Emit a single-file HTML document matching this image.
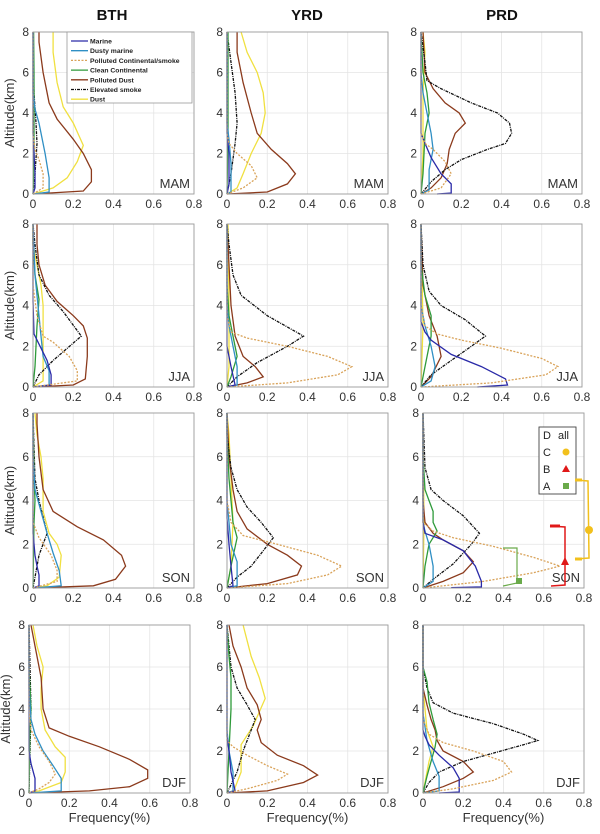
<!DOCTYPE html>
<html><head><meta charset="utf-8"><style>
body{margin:0;background:#fff;width:600px;height:834px;overflow:hidden}
svg{display:block}
text{font-family:"Liberation Sans",sans-serif}
</style></head><body>
<svg id="s" width="600" height="834" xmlns="http://www.w3.org/2000/svg"></svg>
<script>
const S=document.getElementById('s');
let h='';
const rows=[[32,194],[224,387],[413,588],[625,793]];
const cols=[[33,227,421],[33,227,421],[33,227,423],[29,227,423]];
const W=161;
const seasons=['MAM','JJA','SON','DJF'];
const styles=[
 {c:'#2a2aa8',d:''},
 {c:'#2f8fc4',d:''},
 {c:'#d9a35a',d:'2,1.5'},
 {c:'#2e9a3a',d:''},
 {c:'#8b3a1c',d:''},
 {c:'#111',d:'3,1,1,1'},
 {c:'#f0e040',d:''}];
// data[col][row] = 7 series, order: marine,dusty,polcont,clean,poldust,elev,dust
const D={
'0_0':[[[0,0],[0.01,0.3],[0.01,1],[0.005,2],[0,3],[0,8]],[[0,0],[0.08,0.1],[0.08,0.8],[0.06,2],[0.03,3.5],[0.01,4.2],[0,5],[0,8]],[[0,0],[0.05,0.3],[0.05,1],[0.03,1.7],[0.01,2.2],[0,3],[0,8]],[[0,0],[0.005,2],[0.005,6],[0.003,8]],[[0,0],[0.25,0.15],[0.29,0.6],[0.29,1.2],[0.25,2],[0.2,2.7],[0.12,3.7],[0.08,4.5],[0.05,6],[0.03,7.5],[0.03,8]],[[0,0],[0.01,1],[0.02,2.5],[0.015,3.5],[0.005,5],[0,8]],[[0,0],[0.1,0.3],[0.17,0.8],[0.22,1.6],[0.25,2.4],[0.2,3.5],[0.15,4.3],[0.12,5.5],[0.1,7],[0.1,8]]],
'0_1':[[[0,0],[0.09,0.1],[0.09,0.6],[0.07,1.3],[0.02,2.3],[0.005,2.6],[0,4.2],[0,8]],[[0,0],[0.08,0.1],[0.08,0.8],[0.05,1.5],[0.04,2.5],[0.03,3.5],[0.02,4.5],[0.01,5.5],[0,8]],[[0,0],[0.22,0.3],[0.22,0.8],[0.18,1.5],[0.1,2.2],[0.05,2.5],[0.02,3.5],[0,5],[0,8]],[[0,0],[0.01,1],[0.02,3],[0.03,4.3],[0.01,5.5],[0,7],[0,8]],[[0,0],[0.2,0.1],[0.26,0.4],[0.27,1.5],[0.27,2.4],[0.25,3],[0.2,3.5],[0.12,4.2],[0.06,5],[0.03,6],[0.02,7],[0.02,8]],[[0,0],[0.03,0.6],[0.1,1.3],[0.17,1.9],[0.24,2.5],[0.15,3.7],[0.08,4.5],[0.03,5.5],[0.01,7],[0,8]],[[0,0],[0.05,0.3],[0.05,1],[0.05,2],[0.05,4],[0.04,5],[0.02,6],[0,7],[0,8]]],
'0_2':[[[0,0],[0.03,0.1],[0.03,0.6],[0.02,1],[0.01,1.5],[0,2.5],[0,8]],[[0,0],[0.14,0.1],[0.13,0.8],[0.1,1.6],[0.07,2.5],[0.04,3.5],[0.01,4.5],[0,6],[0,8]],[[0,0],[0.12,0.3],[0.12,0.8],[0.09,1.5],[0.03,2.3],[0,3],[0,8]],[[0,0],[0.005,3],[0.01,4],[0.005,5],[0,8]],[[0,0],[0.3,0.1],[0.41,0.4],[0.46,1],[0.44,1.5],[0.35,2.2],[0.22,2.8],[0.1,3.5],[0.05,4.5],[0.03,6],[0.02,7.5],[0.02,8]],[[0,0],[0.01,0.5],[0.03,1.5],[0.07,2.5],[0.03,4],[0.01,5],[0,8]],[[0,0],[0.07,0.1],[0.13,0.5],[0.14,1.5],[0.12,2],[0.08,2.5],[0.05,3.5],[0.05,5],[0.04,6],[0.02,7],[0.01,8]]],
'0_3':[[[0,0],[0.03,0.1],[0.03,0.7],[0.01,1.4],[0,2],[0,8]],[[0,0],[0.16,0.1],[0.16,0.7],[0.12,1.3],[0.07,2],[0.03,2.8],[0.01,3.5],[0,5],[0,8]],[[0,0],[0.05,0.2],[0.1,0.5],[0.13,0.9],[0.1,1.5],[0.05,2.2],[0.01,3],[0,4],[0,8]],[[0,0],[0.005,3],[0.01,4],[0,6],[0,8]],[[0,0],[0.3,0.1],[0.5,0.3],[0.59,0.7],[0.59,1.1],[0.5,1.6],[0.35,2.2],[0.2,2.7],[0.1,3.1],[0.07,4],[0.06,5.5],[0.03,7],[0.01,8]],[[0,0],[0.005,2],[0.01,4],[0.005,6],[0,8]],[[0,0],[0.05,0.1],[0.16,0.5],[0.18,1],[0.18,1.7],[0.13,2.2],[0.08,3],[0.06,4],[0.06,5],[0.07,6],[0.04,7],[0.02,8]]],
'1_0':[[[0,0],[0.01,0.5],[0.01,2],[0,3],[0,8]],[[0,0],[0.02,0.1],[0.02,1.5],[0.01,2.7],[0,3.5],[0,8]],[[0,0],[0.08,0.3],[0.15,0.8],[0.12,1.4],[0.05,2],[0.01,2.5],[0,3],[0,8]],[[0,0],[0.005,3],[0.005,8]],[[0,0],[0.2,0.1],[0.3,0.5],[0.34,1],[0.3,1.5],[0.22,2.2],[0.15,3],[0.12,4],[0.08,5.5],[0.05,7],[0.05,8]],[[0,0],[0.02,1],[0.04,2.5],[0.05,3.5],[0.04,5],[0.02,6.5],[0,8]],[[0,0],[0.05,0.3],[0.08,1],[0.12,2],[0.17,3],[0.19,4],[0.18,5],[0.15,6],[0.1,7],[0.07,8]]],
'1_1':[[[0,0],[0.04,0.1],[0.02,1],[0,2],[0,8]],[[0,0],[0.05,0.1],[0.05,1],[0.03,2],[0.01,3],[0,4],[0,8]],[[0,0],[0.3,0.2],[0.55,0.6],[0.62,1],[0.5,1.5],[0.3,2],[0.1,2.4],[0.02,2.7],[0,3.5],[0,8]],[[0,0],[0.02,0.5],[0.05,1.5],[0.03,2.5],[0.01,3.5],[0,5],[0,8]],[[0,0],[0.1,0.2],[0.18,0.5],[0.14,1],[0.08,1.5],[0.04,2.5],[0.02,4],[0.01,6],[0,8]],[[0,0],[0.05,0.5],[0.15,1.2],[0.3,2],[0.38,2.5],[0.2,3.5],[0.07,4.5],[0.03,5.5],[0.01,7],[0,8]],[[0,0],[0.01,1],[0.01,4],[0.005,8]]],
'1_2':[[[0,0],[0.03,0.1],[0.02,1],[0.01,2],[0,3.2],[0,8]],[[0,0],[0.05,0.1],[0.05,1.2],[0.02,2],[0.01,3],[0,4],[0,8]],[[0,0],[0.3,0.2],[0.5,0.6],[0.57,1],[0.45,1.5],[0.25,2],[0.08,2.4],[0.02,3],[0,4],[0,8]],[[0,0],[0.02,1],[0.05,2.3],[0.03,3],[0.02,4],[0.01,5],[0,7],[0,8]],[[0,0],[0.2,0.2],[0.35,0.6],[0.37,1],[0.3,1.5],[0.2,2],[0.1,2.7],[0.05,3.5],[0.03,4.5],[0.01,6],[0,8]],[[0,0],[0.05,0.5],[0.12,1],[0.18,1.7],[0.23,2.3],[0.17,3],[0.1,3.7],[0.05,4.5],[0.02,5.5],[0,7],[0,8]],[[0,0],[0.02,1],[0.03,3],[0.02,5],[0.01,7],[0,8]]],
'1_3':[[[0,0],[0.04,0.1],[0.02,1],[0.01,2],[0,2.7],[0,8]],[[0,0],[0.03,0.1],[0.03,1],[0.01,2],[0,3],[0,8]],[[0,0],[0.1,0.2],[0.25,0.6],[0.3,0.9],[0.2,1.3],[0.1,1.8],[0.03,2.2],[0,2.5],[0,8]],[[0,0],[0.01,2],[0.02,4],[0.02,5.5],[0.01,6.5],[0,8]],[[0,0],[0.2,0.1],[0.38,0.5],[0.45,0.85],[0.38,1.3],[0.25,1.8],[0.17,2.4],[0.15,3],[0.17,3.5],[0.15,4.2],[0.1,5],[0.07,6],[0.03,7],[0.01,8]],[[0,0],[0.05,1],[0.08,2],[0.12,3],[0.14,3.5],[0.1,4.2],[0.05,5],[0.02,6],[0,8]],[[0.03,0],[0.07,1],[0.07,2.3],[0.13,3.2],[0.19,4.5],[0.16,5.5],[0.12,6.5],[0.08,8]]],
'2_0':[[[0.08,0],[0.15,0.05],[0.15,0.5],[0.1,1],[0.05,1.8],[0.02,2.5],[0,3],[0,8]],[[0,0],[0.04,0.2],[0.04,1.2],[0.06,2.2],[0.05,3],[0.03,4],[0.01,5],[0,6],[0,8]],[[0,0],[0.1,0.3],[0.15,1],[0.12,1.6],[0.06,2.2],[0.02,2.5],[0,3],[0,8]],[[0,0],[0.01,1],[0.02,3],[0.04,4],[0.03,5],[0.01,6],[0,8]],[[0,0],[0.05,0.3],[0.1,0.8],[0.13,1.5],[0.14,2.2],[0.17,3],[0.22,3.5],[0.19,4],[0.12,4.5],[0.06,5.2],[0.02,6],[0.01,8]],[[0,0],[0.05,0.6],[0.12,1.2],[0.2,1.7],[0.33,2.2],[0.42,2.5],[0.45,3],[0.44,3.5],[0.38,4],[0.25,4.5],[0.1,5.2],[0.03,5.6],[0.02,6.5],[0,8]],[[0,0],[0.01,2],[0.01,5],[0.02,7],[0.01,8]]],
'2_1':[[[0.28,0],[0.43,0.1],[0.42,0.4],[0.3,1],[0.15,1.6],[0.05,2.3],[0.02,2.7],[0,3.2],[0,8]],[[0,0],[0.05,0.3],[0.07,1],[0.05,2],[0.02,3],[0,4],[0,8]],[[0,0],[0.35,0.2],[0.62,0.6],[0.68,1],[0.6,1.4],[0.4,1.9],[0.2,2.3],[0.08,2.6],[0.02,3],[0,4],[0,8]],[[0,0],[0.02,1],[0.05,2.5],[0.05,3.5],[0.02,4.5],[0,6],[0,8]],[[0,0],[0.05,0.5],[0.1,1.5],[0.08,2.5],[0.04,3.5],[0.01,5],[0,8]],[[0,0],[0.05,0.6],[0.15,1.3],[0.25,2],[0.32,2.5],[0.22,3.3],[0.1,4],[0.04,4.7],[0.01,6],[0,8]],[[0,0],[0.01,3],[0,8]]],
'2_2':[[[0.14,0.02],[0.29,0.05],[0.29,0.3],[0.26,1],[0.2,1.7],[0.1,2.2],[0.01,2.5],[0,3],[0,8]],[[0,0],[0.05,0.3],[0.05,1],[0.03,2],[0.01,2.6],[0,3],[0,8]],[[0,0],[0.3,0.3],[0.55,0.7],[0.68,1.0],[0.55,1.4],[0.35,1.9],[0.15,2.3],[0.05,2.6],[0,3],[0,8]],[[0,0],[0.01,1],[0.03,2],[0.07,2.6],[0.05,3],[0.05,3.5],[0.03,4],[0.01,4.5],[0,6],[0,8]],[[0,0],[0.1,0.3],[0.2,0.7],[0.25,1.2],[0.2,1.7],[0.1,2.2],[0.05,2.5],[0.01,3],[0,4],[0,8]],[[0,0],[0.05,0.4],[0.15,1.1],[0.24,2],[0.28,2.5],[0.2,3.3],[0.1,4],[0.04,4.5],[0.01,5.5],[0,8]],[[0,0],[0.005,3],[0,8]]],
'2_3':[[[0.08,0],[0.18,0.05],[0.18,0.7],[0.15,1.2],[0.08,1.8],[0.03,2.3],[0.01,2.7],[0,3],[0,8]],[[0,0],[0.08,0.1],[0.08,0.8],[0.05,1.5],[0.02,2.5],[0,3.8],[0,8]],[[0,0],[0.15,0.2],[0.35,0.6],[0.44,1.0],[0.4,1.5],[0.25,2],[0.1,2.4],[0.03,2.8],[0,3.5],[0,8]],[[0,0],[0.02,0.8],[0.06,2.2],[0.07,2.8],[0.05,3.5],[0.03,4.3],[0.02,5.3],[0,6],[0,8]],[[0,0],[0.1,0.3],[0.2,0.7],[0.25,1.0],[0.2,1.5],[0.1,2],[0.07,2.5],[0.06,3],[0.04,3.5],[0.02,4.2],[0,5],[0,8]],[[0,0],[0.03,0.5],[0.08,1],[0.2,1.5],[0.35,1.9],[0.5,2.3],[0.57,2.5],[0.5,2.8],[0.35,3.3],[0.15,3.8],[0.05,4.3],[0.02,5],[0,6],[0,8]],[[0,0],[0.03,1.5],[0.05,2.2],[0.02,3],[0,5],[0,8]]]
};
const titles=['BTH','YRD','PRD'];
const tx=[112,307,502];
titles.forEach((t,i)=>h+=`<text x="${tx[i]}" y="20" font-size="15" font-weight="bold" text-anchor="middle" fill="#111">${t}</text>`);
for(let r=0;r<4;r++)for(let c=0;c<3;c++){
 const x0=cols[r][c],y0=rows[r][0],y1=rows[r][1],H=y1-y0;
 const X=v=>x0+v/0.8*W, Y=a=>y1-a/8*H;
 h+=`<rect x="${x0}" y="${y0}" width="${W}" height="${H}" fill="#fff"/>`;
 for(let k=1;k<4;k++){h+=`<line x1="${X(k*0.2)}" y1="${y0}" x2="${X(k*0.2)}" y2="${y1}" stroke="#e4e4e4" stroke-width="0.8"/>`;
  h+=`<line x1="${x0}" y1="${Y(k*2)}" x2="${x0+W}" y2="${Y(k*2)}" stroke="#e4e4e4" stroke-width="0.8"/>`;}
 const d=D[c+'_'+r];
 [6,4,5,3,1,0,2].forEach(i=>{const s=styles[i];
  h+=`<polyline fill="none" stroke="${s.c}" stroke-width="1.3" ${s.d?`stroke-dasharray="${s.d}"`:''} points="${d[i].map(p=>X(p[0]).toFixed(1)+','+Y(p[1]).toFixed(1)).join(' ')}"/>`;});
 h+=`<rect x="${x0}" y="${y0}" width="${W}" height="${H}" fill="none" stroke="#999" stroke-width="0.9"/>`;
 for(let k=0;k<5;k++){h+=`<text x="${X(k*0.2)}" y="${y1+14}" font-size="12" text-anchor="middle" fill="#333">${k==0?'0':(k*0.2).toFixed(1)}</text>`;
  h+=`<text x="${x0-4}" y="${Y(k*2)+4}" font-size="12" text-anchor="end" fill="#333">${k*2}</text>`;}
 h+=`<text x="${x0+W-4}" y="${y1-6}" font-size="13" text-anchor="end" fill="#333">${seasons[r]}</text>`;
 if(c==0)h+=`<text transform="translate(${x0-19},${(y0+y1)/2}) rotate(-90)" font-size="13" text-anchor="middle" fill="#333">Altitude(km)</text>`;
 if(r==3)h+=`<text x="${x0+W/2}" y="822" font-size="13" text-anchor="middle" fill="#333">Frequency(%)</text>`;
}
// legend
h+=`<rect x="67" y="32" width="125" height="71" fill="#fff" stroke="#999" stroke-width="0.8"/>`;
const names=['Marine','Dusty marine','Polluted Continental/smoke','Clean Continental','Polluted Dust','Elevated smoke','Dust'];
names.forEach((n,i)=>{const y=41+i*9.7,s=styles[i];
 h+=`<line x1="71" y1="${y}" x2="88" y2="${y}" stroke="${s.c}" stroke-width="1.3" ${s.d?`stroke-dasharray="${s.d}"`:''}/>`;
 h+=`<text x="90" y="${y+2.5}" font-size="6.8" font-weight="bold" fill="#222">${n}</text>`;});
// PRD SON annotations
h+=`<rect x="539" y="427" width="37" height="67" fill="#fff" stroke="#444" stroke-width="0.9"/>`;
[['D','all'],['C',''],['B',''],['A','']].forEach((e,i)=>{const y=439+i*17;
 h+=`<text x="543" y="${y}" font-size="11" fill="#222">${e[0]}</text>`;if(e[1])h+=`<text x="558" y="${y}" font-size="11" fill="#222">${e[1]}</text>`;});
h+=`<circle cx="566" cy="452" r="3.5" fill="#f2c01c"/>`;
h+=`<polygon points="566,465 570,472 562,472" fill="#e01818"/>`;
h+=`<rect x="563" y="483" width="6" height="6" fill="#6aaa4a"/>`;
h+=`<polyline points="575,480 588,481 589,558 575,559" fill="none" stroke="#f2c01c" stroke-width="1.5"/><line x1="575" y1="480" x2="582" y2="480" stroke="#f2c01c" stroke-width="3"/><line x1="575" y1="559" x2="582" y2="559" stroke="#f2c01c" stroke-width="3"/><circle cx="589" cy="530" r="4" fill="#f2c01c"/>`;
h+=`<polyline points="550,526 565,527 565,585 551,586" fill="none" stroke="#e01818" stroke-width="1.5"/><line x1="550" y1="526" x2="560" y2="526" stroke="#e01818" stroke-width="3"/><polygon points="565,557 569,565 561,565" fill="#e01818"/>`;
h+=`<polyline points="503,548 517,548 517,583 503,586" fill="none" stroke="#6aaa4a" stroke-width="1.2"/><rect x="516" y="578" width="6" height="6" fill="#6aaa4a"/>`;
S.innerHTML=h;
</script>
</body></html>
